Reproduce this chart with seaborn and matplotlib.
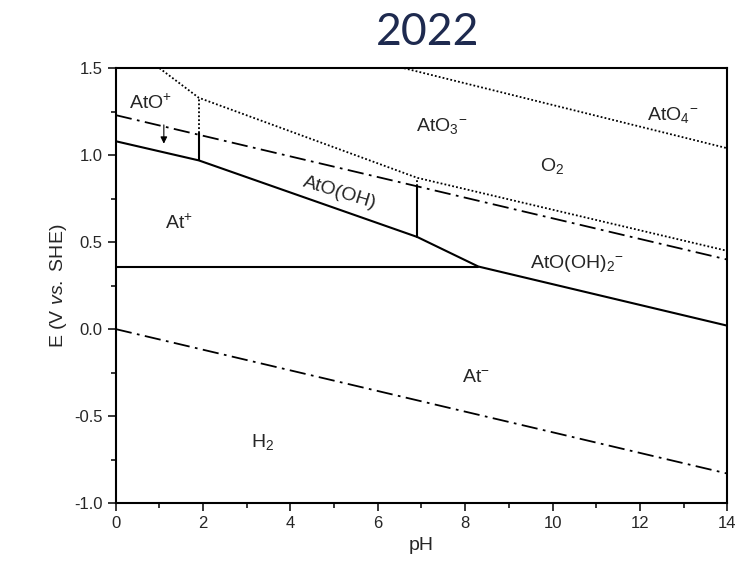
import numpy as np
import pandas as pd
import seaborn as sns
import matplotlib.pyplot as plt

# Fronteiras do diagrama (pH, E)
solid_ph = [0, 1.9, 6.9, 8.3, 14]
solid_e = [1.08, 0.97, 0.53, 0.36, 0.02]
horiz_ph = [0, 8.3]
horiz_e = [0.36, 0.36]
vert1_ph = [1.9, 1.9]
vert1_e = [0.97, 1.13]
vert2_ph = [6.9, 6.9]
vert2_e = [0.53, 0.82]

dot1_ph = [1.0, 1.9, 6.9, 14]
dot1_e = [1.5, 1.33, 0.87, 0.45]
dotv1_ph = [1.9, 1.9]
dotv1_e = [1.13, 1.33]
dotv2_ph = [6.9, 6.9]
dotv2_e = [0.82, 0.87]
dot2_ph = [6.6, 14]
dot2_e = [1.5, 1.04]

o2_ph = [0, 14]
o2_e = [1.23, 0.40]
h2_ph = [0, 14]
h2_e = [0.0, -0.83]

# Rótulos das espécies
labels = [r'AtO$^{+}$', r'At$^{+}$', 'AtO(OH)', r'AtO$_3$$^{-}$', r'AtO$_4$$^{-}$',
          r'O$_2$', r'AtO(OH)$_2$$^{-}$', r'At$^{-}$', r'H$_2$']
label_ph = [0.8, 1.45, 5.12, 7.45, 12.75, 10.0, 10.55, 8.25, 3.35]
label_e = [1.30, 0.61, 0.78, 1.17, 1.23, 0.94, 0.38, -0.28, -0.65]
label_rot = [0, 0, -17, 0, 0, 0, 0, 0, 0]

sns.set_style('ticks')
plt.rcParams['font.family'] = ['Liberation Sans', 'DejaVu Sans']
plt.rcParams['mathtext.fontset'] = 'custom'
plt.rcParams['mathtext.rm'] = 'Liberation Sans'
plt.rcParams['mathtext.it'] = 'Liberation Sans:italic'

fig = plt.figure(figsize=(7.52, 5.73), dpi=100)
ax = fig.add_axes([0.154, 0.122, 0.813, 0.759])

def line(xs, ys, **kw):
    d = pd.DataFrame({'pH': xs, 'E': ys})
    sns.lineplot(data=d, x='pH', y='E', sort=False, estimator=None, color='black', ax=ax, **kw)

for xs, ys in [(solid_ph, solid_e), (horiz_ph, horiz_e), (vert1_ph, vert1_e), (vert2_ph, vert2_e)]:
    line(xs, ys, linewidth=1.5)
for xs, ys in [(dot1_ph, dot1_e), (dotv1_ph, dotv1_e), (dotv2_ph, dotv2_e), (dot2_ph, dot2_e)]:
    line(xs, ys, linewidth=1.3, linestyle=(0, (1, 1.2)))
for xs, ys in [(o2_ph, o2_e), (h2_ph, h2_e)]:
    line(xs, ys, linewidth=1.3, linestyle=(0, (9, 3, 1.5, 3)))

for t, x, y, r in zip(labels, label_ph, label_e, label_rot):
    ax.text(x, y, t, fontsize=14, ha='center', va='center', rotation=r)

ax.annotate('', xy=(1.1, 1.05), xytext=(1.1, 1.19),
            arrowprops=dict(arrowstyle='-|>', color='black', lw=0.8, mutation_scale=10))

ax.set_xlim(0, 14)
ax.set_ylim(-1.0, 1.5)
ax.set_xticks(np.arange(0, 15, 2))
ax.set_xticks(np.arange(1, 14, 2), minor=True)
ax.set_yticks(np.arange(-1.0, 1.51, 0.5))
ax.set_yticks(np.arange(-0.75, 1.5, 0.5), minor=True)
ax.yaxis.set_major_formatter(plt.FormatStrFormatter('%.1f'))
ax.tick_params(which='major', direction='out', length=6, width=1.3, labelsize=12)
ax.tick_params(which='minor', direction='out', length=3.5, width=1.3)
for s in ax.spines.values():
    s.set_visible(True)
    s.set_linewidth(1.5)
    s.set_color('black')

ax.set_xlabel('pH', fontsize=14)
ax.set_ylabel(r'E (V $\mathit{vs.}$ SHE)', fontsize=14)

fig.text(0.568, 0.944, '2022', fontsize=32, color='#1e2a4f', ha='center', va='center',
         family=['Lato', 'DejaVu Sans'])

plt.savefig('out.png', dpi=100)
